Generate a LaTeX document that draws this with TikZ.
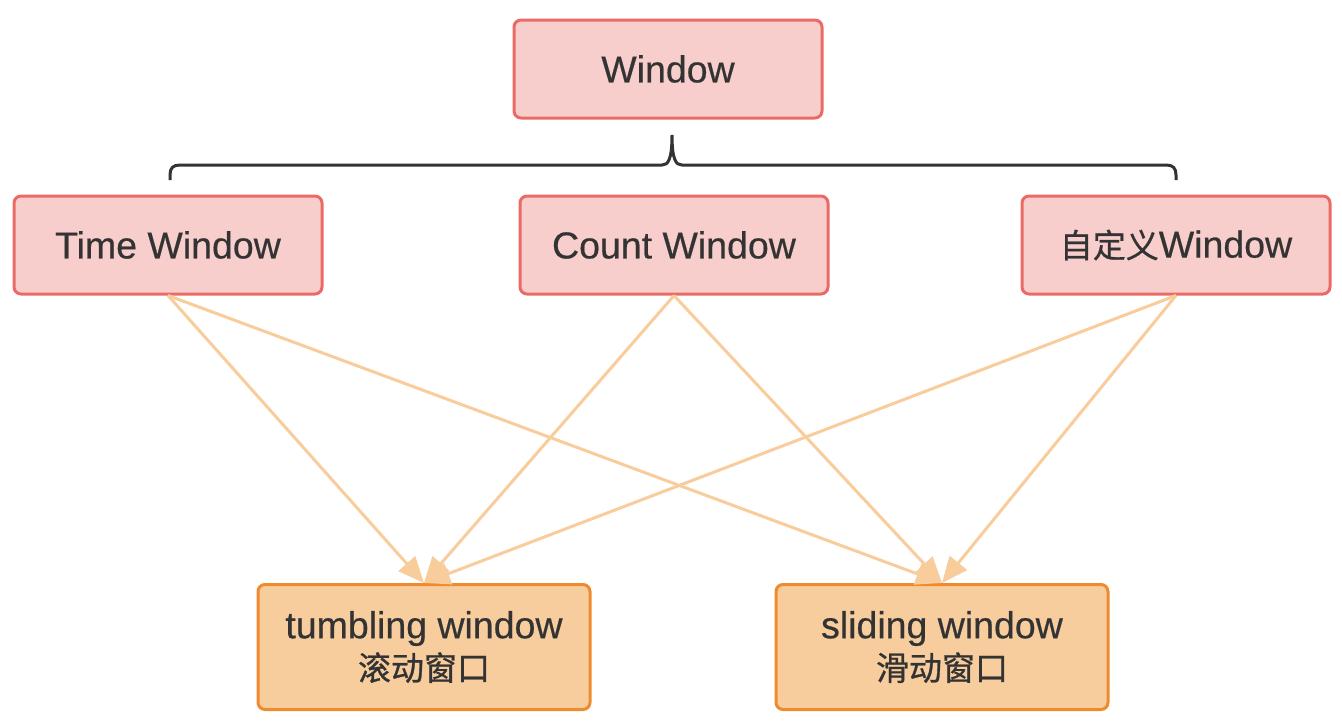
\documentclass[tikz,border=0pt]{standalone}
\usepackage{fontspec}
\setmainfont[FakeBold=0.5]{Liberation Sans}
\newfontfamily\cjk[FakeBold=0.8]{Noto Sans CJK SC}
\usetikzlibrary{arrows.meta}
\definecolor{redfill}{HTML}{F8CECC}
\definecolor{redline}{HTML}{EA6B66}
\definecolor{orfill}{HTML}{F8CD9E}
\definecolor{orline}{HTML}{F08A2E}
\definecolor{arrowc}{HTML}{F9CC9C}
\definecolor{txt}{HTML}{333333}
\tikzset{
  topbox/.style={draw=redline, fill=redfill, line width=3pt, rounded corners=7pt,
    minimum width=308pt, minimum height=98pt, inner sep=0pt, text=txt,
    font=\fontsize{37.5}{42}\selectfont},
  botbox/.style={draw=orline, fill=orfill, line width=3pt, rounded corners=7pt,
    minimum width=332pt, minimum height=125pt, inner sep=0pt, text=txt, align=center,
    font=\fontsize{37.5}{42}\selectfont},
  conn/.style={draw=arrowc, line width=3pt, -{Triangle[length=26pt,width=22pt]}, shorten <=0pt},
  bracec/.style={draw=txt, line width=3pt}
}
\newcommand{\zh}[1]{{\cjk\fontsize{33}{42}\selectfont #1}}
\begin{document}
\begin{tikzpicture}[x=1pt,y=-1pt]
\useasboundingbox (0,0) rectangle (1342,724);
\node[topbox] (win) at (668,69) {Window};
\node[topbox] (tw) at (168,245) {Time Window};
\node[topbox] (cw) at (674,245) {Count Window};
\node[topbox] (zw) at (1176,245) {\zh{自定义}Window};
\node[botbox] (tb) at (424,647) {tumbling window\\\zh{滚动窗口}};
\node[botbox] (sl) at (942,647) {sliding window\\\zh{滑动窗口}};
\coordinate (bl) at (170,180);
\coordinate (br) at (1176,180);
\coordinate (bt) at (672,135);
\draw[bracec] (bl) -- (170,175) .. controls (170,168) and (173,165) .. (180,165)
  -- (662,165) .. controls (668,165) and (672,160) .. (bt)
  .. controls (672,160) and (676,165) .. (682,165)
  -- (1166,165) .. controls (1173,165) and (1176,168) .. (1176,175) -- (br);
\draw[conn] (tw.south) -- (tb.north);
\draw[conn] (tw.south) -- (sl.north);
\draw[conn] (cw.south) -- (tb.north);
\draw[conn] (cw.south) -- (sl.north);
\draw[conn] (zw.south) -- (tb.north);
\draw[conn] (zw.south) -- (sl.north);
\end{tikzpicture}
\end{document}
